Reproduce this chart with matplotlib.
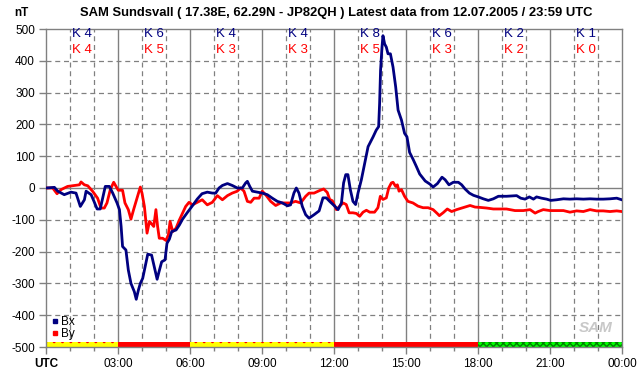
import matplotlib
matplotlib.use('Agg')
from matplotlib import pyplot as plt
from matplotlib.patches import Rectangle
from matplotlib.lines import Line2D

plt.rcParams['font.family'] = ['Liberation Sans', 'DejaVu Sans']

# Bx component (nT) vs hours UTC
bx_hours = [0.0, 0.35, 0.49, 0.76, 1.04, 1.25, 1.43, 1.6, 1.67, 1.88, 2.0, 2.13, 2.26, 2.36, 2.47,
            2.64, 2.78, 2.96, 3.06, 3.13, 3.19, 3.33, 3.43, 3.54, 3.68, 3.76, 3.85, 3.93, 4.03, 4.13,
            4.24, 4.4, 4.51, 4.63, 4.71, 4.82, 4.96, 5.04, 5.14, 5.24, 5.42, 5.56, 5.69, 5.9, 6.11,
            6.3, 6.5, 6.72, 6.93, 7.07, 7.21, 7.35, 7.56, 7.76, 7.97, 8.18, 8.32, 8.39, 8.49, 8.6,
            8.81, 9.01, 9.22, 9.43, 9.64, 9.85, 10.06, 10.19, 10.33, 10.43, 10.54, 10.68, 10.82, 10.96,
            11.17, 11.38, 11.54, 11.68, 11.82, 12.03, 12.17, 12.31, 12.4, 12.49, 12.58, 12.68, 12.79,
            12.9, 13.0, 13.14, 13.28, 13.42, 13.63, 13.76, 13.86, 13.9, 13.94, 14.0, 14.04, 14.11,
            14.18, 14.25, 14.35, 14.46, 14.57, 14.67, 14.81, 14.94, 15.04, 15.15, 15.29, 15.43, 15.57,
            15.8, 16.0, 16.13, 16.31, 16.5, 16.63, 16.79, 16.97, 17.18, 17.32, 17.46, 17.64, 17.81,
            18.01, 18.22, 18.43, 18.64, 18.85, 19.19, 19.61, 19.78, 19.96, 20.14, 20.31, 20.44, 20.65,
            20.86, 21.03, 21.28, 21.56, 21.83, 22.11, 22.39, 22.67, 22.94, 23.22, 23.5, 23.78, 23.99]
bx_values = [0, 2, -10, -21, -13, -16, -58, -37, -10, -21, -42, -66, -66, -32, 5,
             5, -16, -47, -68, -121, -184, -195, -258, -300, -326, -350, -321, -300, -284, -247,
             -208, -211, -247, -287, -263, -232, -226, -174, -161, -137, -132, -116, -98, -76, -55,
             -35, -18, -13, -16, -16, 0, 8, 14, 8, 0, 0, 16, 21, 5, -10,
             -13, -16, -21, -32, -42, -47, -56, -53, -16, 0, -16, -58, -84, -95,
             -84, -72, -31, -31, -42, -57, -68, -47, 16, 42, 42, -5, -42,
             -52, -16, 26, 78, 130, 161, 182, 193, 266, 370, 443, 479, 453,
             443, 422, 422, 380, 318, 245, 214, 172, 161, 112, 91, 68, 44,
             22, 12, 3, 14, 34, 26, 10, 18, 18, 10, -3, -16, -23,
             -28, -34, -39, -34, -26, -26, -24, -32, -35, -28, -35, -28, -32,
             -35, -39, -37, -34, -35, -34, -35, -34, -35, -35, -34, -32, -37]

# By component (nT) vs hours UTC
by_hours = [0.0, 0.28, 0.46, 0.63, 0.9, 1.18, 1.39, 1.46, 1.6, 1.74, 1.94, 2.15, 2.29, 2.43, 2.54,
            2.68, 2.82, 2.92, 3.01, 3.19, 3.29, 3.43, 3.54, 3.65, 3.79, 3.93, 4.0, 4.1, 4.21, 4.31,
            4.38, 4.49, 4.58, 4.65, 4.72, 4.86, 5.0, 5.1, 5.17, 5.28, 5.42, 5.56, 5.69, 5.82, 5.96,
            6.1, 6.31, 6.51, 6.72, 6.93, 7.14, 7.35, 7.56, 7.76, 7.97, 8.11, 8.25, 8.39, 8.53, 8.67,
            8.88, 9.01, 9.15, 9.36, 9.57, 9.78, 9.99, 10.19, 10.4, 10.61, 10.82, 10.96, 11.17, 11.4,
            11.57, 11.72, 11.82, 11.93, 12.1, 12.24, 12.38, 12.51, 12.63, 12.79, 12.93, 13.07, 13.21,
            13.35, 13.49, 13.69, 13.83, 13.93, 14.04, 14.18, 14.28, 14.39, 14.46, 14.57, 14.64, 14.71,
            14.81, 14.94, 15.08, 15.29, 15.5, 15.71, 15.92, 16.13, 16.3, 16.39, 16.56, 16.72, 16.9,
            17.11, 17.32, 17.53, 17.67, 17.88, 18.08, 18.36, 18.64, 18.92, 19.19, 19.54, 19.89, 20.17,
            20.38, 20.51, 20.72, 21.0, 21.28, 21.56, 21.83, 22.11, 22.39, 22.67, 22.94, 23.22, 23.5,
            23.78, 23.99]
by_values = [0, 0, -18, -5, 5, 8, 10, 19, 10, 7, -10, -32, -63, -63, -47,
             -5, 18, 5, -7, -7, -47, -68, -98, -68, -32, 3, -16, -58, -142, -105,
             -111, -121, -68, -121, -158, -158, -165, -147, -105, -137, -126, -100, -79, -58, -45,
             -53, -45, -37, -53, -45, -24, -37, -24, -16, -10, 0, -10, -42, -45, -32,
             -32, -10, -21, -42, -55, -47, -47, -47, -42, -47, -26, -16, -16, -8,
             -3, -14, -36, -40, -68, -57, -47, -52, -78, -78, -80, -89, -76,
             -70, -76, -76, -62, -26, -36, -31, 0, 16, 18, 5, 10, -10,
             -5, -26, -42, -47, -57, -62, -62, -68, -80, -87, -77, -66, -74,
             -68, -63, -58, -55, -60, -61, -63, -66, -66, -66, -71, -71, -68,
             -79, -74, -68, -71, -71, -71, -76, -72, -74, -68, -72, -72, -74,
             -72, -74]

# K indices per 3-hour block
k_bx = [4, 6, 4, 4, 8, 6, 2, 1]
k_by = [4, 5, 3, 3, 5, 3, 2, 0]

x_tick_labels = ['UTC', '03:00', '06:00', '09:00', '12:00', '15:00', '18:00', '21:00', '00:00']

if __name__ == '__main__':
    fig = plt.figure(figsize=(6.42, 3.76), dpi=100)
    ax = fig.add_axes([46 / 642, 29 / 376, 576 / 642, 318 / 376])
    ax.set_xlim(0, 24)
    ax.set_ylim(-500, 500)

    grid_c = '#808080'
    # grid: dashed every hour / 100 nT, solid every 3 h and at 0
    for h in range(1, 24):
        if h % 3 == 0:
            ax.axvline(h, color=grid_c, lw=1.0, zorder=1)
        else:
            ax.axvline(h, color=grid_c, lw=0.9, ls=(0, (4, 3)), zorder=1)
    for v in range(-400, 500, 100):
        if v == 0:
            ax.axhline(v, color=grid_c, lw=1.0, zorder=1)
        else:
            ax.axhline(v, color=grid_c, lw=0.9, ls=(0, (4, 3)), zorder=1)

    for s in ax.spines.values():
        s.set_color(grid_c)
        s.set_linewidth(1.0)

    # activity bar along the bottom
    for i, k in enumerate(k_bx):
        if k >= 5:
            ax.add_patch(Rectangle((i * 3, -500), 3, 16, facecolor='#ff0000', edgecolor='none', zorder=2))
        elif k == 4:
            ax.add_patch(Rectangle((i * 3, -500), 3, 16, facecolor='#ffff00', edgecolor='#ff0000',
                                   hatch='..', lw=0, zorder=2))
        else:
            ax.add_patch(Rectangle((i * 3, -500), 3, 16, facecolor='#00ff00', edgecolor='#008000',
                                   hatch='xxxxx', lw=0, zorder=2))

    ax.plot(bx_hours, bx_values, color='#000080', lw=2.0, zorder=4)
    ax.plot(by_hours, by_values, color='#ff0000', lw=2.0, zorder=3)

    # K index labels
    for i in range(8):
        ax.text(i * 3 + 1.5, 483, 'K %d' % k_bx[i], color='#000080', fontsize=9.5,
                ha='center', va='center', zorder=5)
        ax.text(i * 3 + 1.5, 433, 'K %d' % k_by[i], color='#ff0000', fontsize=9.5,
                ha='center', va='center', zorder=5)

    ax.set_yticks(range(-500, 501, 100))
    ax.set_yticklabels([str(v) for v in range(-500, 501, 100)])
    ax.set_xticks(range(0, 25, 3))
    ax.set_xticks(range(0, 25, 1), minor=True)
    ax.set_xticklabels(x_tick_labels)
    ax.get_xticklabels()[0].set_fontweight('bold')
    ax.tick_params(axis='both', colors=grid_c, labelcolor='black', labelsize=8.5, length=5, width=1)
    ax.tick_params(axis='x', which='minor', colors=grid_c, length=3, width=1)
    ax.tick_params(axis='x', pad=3)
    ax.tick_params(axis='y', pad=3)

    handles = [Line2D([], [], ls='none', marker='s', markersize=3, color='#000080'),
               Line2D([], [], ls='none', marker='s', markersize=3, color='#ff0000')]
    ax.legend(handles, ['Bx', 'By'], loc='lower left', bbox_to_anchor=(-0.005, -0.005), frameon=False,
              fontsize=8.5, handlelength=0.6, handletextpad=0.2, labelspacing=0.05, borderpad=0.2)

    # logo placeholder
    ax.text(22.9, -440, 'SAM', fontsize=11, fontstyle='italic', fontweight='bold',
            color='#c8c8c8', ha='center', va='center', zorder=5)

    fig.text(21 / 642, 1 - 13 / 376, 'nT', fontsize=8.5, fontweight='bold', ha='center', va='center')
    fig.text(336 / 642, 1 - 13 / 376,
             'SAM Sundsvall ( 17.38E, 62.29N - JP82QH ) Latest data from 12.07.2005 / 23:59 UTC',
             fontsize=9.4, fontweight='bold', ha='center', va='center')

    fig.savefig('out.png', dpi=100)
